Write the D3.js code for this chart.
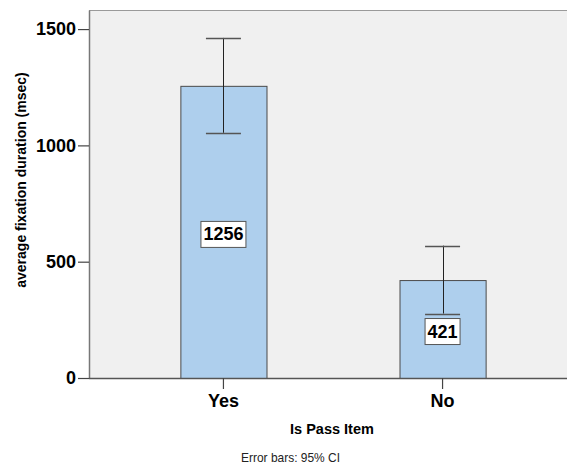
<!DOCTYPE html>
<html>
<head>
<meta charset="utf-8">
<script src="https://cdn.jsdelivr.net/npm/d3@7"></script>
<style>
  html, body { margin: 0; padding: 0; background: #ffffff; }
  svg { display: block; }
  text { font-family: "Liberation Sans", Arial, sans-serif; }
</style>
</head>
<body>
<div id="chart"></div>
<script>
const categories = ["Yes", "No"];
const means = [1256, 421];
const ciLower = [1054, 277];
const ciUpper = [1462, 569];
const yTicks = [0, 500, 1000, 1500];
const yAxisTitle = "average fixation duration (msec)";
const xAxisTitle = "Is Pass Item";
const footnote = "Error bars: 95% CI";
const yMax = 1582;

const W = 567, H = 466;
const plot = { left: 89, top: 10, right: 577, bottom: 378 };

const svg = d3.select("#chart").append("svg")
  .attr("width", W).attr("height", H);

const x = d3.scaleBand()
  .domain(categories)
  .range([plot.left, plot.right])
  .paddingInner(0.607)
  .paddingOuter(0.417);

const y = d3.scaleLinear()
  .domain([0, yMax])
  .range([plot.bottom, plot.top]);

// plot background
svg.append("rect")
  .attr("x", plot.left).attr("y", plot.top)
  .attr("width", W - plot.left).attr("height", plot.bottom - plot.top)
  .attr("fill", "#f0f0f0");

// top border
svg.append("line")
  .attr("x1", plot.left).attr("x2", W)
  .attr("y1", plot.top + 0.5).attr("y2", plot.top + 0.5)
  .attr("stroke", "#9a9a9a").attr("stroke-width", 1.2);

const data = categories.map((c, i) => ({ c, m: means[i], lo: ciLower[i], hi: ciUpper[i] }));

// bars
svg.selectAll("rect.bar").data(data).enter().append("rect")
  .attr("class", "bar")
  .attr("x", d => x(d.c) + 0.5)
  .attr("y", d => y(d.m) + 0.5)
  .attr("width", x.bandwidth())
  .attr("height", d => y(0) - y(d.m))
  .attr("fill", "#aecfed")
  .attr("stroke", "#4a4a4a")
  .attr("stroke-width", 1);

// error bars
const capW = 35;
const eb = svg.selectAll("g.eb").data(data).enter().append("g").attr("class", "eb")
  .attr("stroke", "#222").attr("stroke-width", 1);
eb.append("line")
  .attr("x1", d => Math.round(x(d.c) + x.bandwidth() / 2) + 0.5)
  .attr("x2", d => Math.round(x(d.c) + x.bandwidth() / 2) + 0.5)
  .attr("y1", d => y(d.hi)).attr("y2", d => y(d.lo));
eb.append("line")
  .attr("x1", d => x(d.c) + x.bandwidth() / 2 - capW / 2)
  .attr("x2", d => x(d.c) + x.bandwidth() / 2 + capW / 2)
  .attr("y1", d => Math.round(y(d.hi)) + 0.5).attr("y2", d => Math.round(y(d.hi)) + 0.5)
  .attr("stroke", "#555").attr("stroke-width", 1.5);
eb.append("line")
  .attr("x1", d => x(d.c) + x.bandwidth() / 2 - capW / 2)
  .attr("x2", d => x(d.c) + x.bandwidth() / 2 + capW / 2)
  .attr("y1", d => Math.round(y(d.lo)) + 0.5).attr("y2", d => Math.round(y(d.lo)) + 0.5)
  .attr("stroke", "#555").attr("stroke-width", 1.5);

// value labels
const lab = svg.selectAll("g.lab").data(data).enter().append("g").attr("class", "lab")
  .attr("transform", d => `translate(${x(d.c) + x.bandwidth() / 2},${(y(d.m) + y(0)) / 2 + 2})`);
lab.append("text")
  .attr("text-anchor", "middle")
  .attr("dy", "0.36em")
  .attr("font-size", 18)
  .attr("font-weight", "bold")
  .attr("fill", "#000")
  .text(d => d.m);
lab.each(function () {
  const g = d3.select(this);
  const bb = g.select("text").node().getBBox();
  g.insert("rect", "text")
    .attr("x", Math.round(bb.x - 2.5) + 0.5)
    .attr("y", -12.5)
    .attr("width", Math.round(bb.width + 5))
    .attr("height", 26)
    .attr("fill", "#ffffff")
    .attr("stroke", "#555")
    .attr("stroke-width", 1);
});

// y axis
const yAxis = svg.append("g")
  .attr("transform", `translate(${plot.left},0)`)
  .call(d3.axisLeft(y).tickValues(yTicks).tickFormat(d3.format("d"))
    .tickSize(11).tickPadding(2).tickSizeOuter(0));
yAxis.select(".domain").attr("stroke", "#777").attr("stroke-width", 1.5);
yAxis.selectAll(".tick line").attr("stroke", "#444").attr("stroke-width", 1.2);
yAxis.selectAll(".tick text")
  .attr("font-size", 18).attr("font-weight", "bold").attr("fill", "#000")
  .attr("font-family", "'Liberation Sans', Arial, sans-serif");

// x axis
const xAxis = svg.append("g")
  .attr("transform", `translate(0,${plot.bottom})`)
  .call(d3.axisBottom(x).tickSize(11).tickPadding(5).tickSizeOuter(0));
xAxis.select(".domain").attr("stroke", "#555").attr("stroke-width", 1.5)
  .attr("d", `M${plot.left},0.5H${W}`);
xAxis.selectAll(".tick line").attr("stroke", "#444").attr("stroke-width", 1.2);
xAxis.selectAll(".tick text")
  .attr("font-size", 18).attr("font-weight", "bold").attr("fill", "#000")
  .attr("font-family", "'Liberation Sans', Arial, sans-serif");

// axis titles
svg.append("text")
  .attr("transform", `translate(26,180) rotate(-90)`)
  .attr("text-anchor", "middle")
  .attr("font-size", 14).attr("font-weight", "bold").attr("fill", "#000")
  .text(yAxisTitle);

svg.append("text")
  .attr("x", 332).attr("y", 434)
  .attr("text-anchor", "middle")
  .attr("font-size", 14.5).attr("font-weight", "bold").attr("fill", "#000")
  .text(xAxisTitle);

svg.append("text")
  .attr("x", 241).attr("y", 461.5)
  .attr("font-size", 13)
  .attr("fill", "#222")
  .attr("textLength", 99)
  .attr("lengthAdjust", "spacingAndGlyphs")
  .text(footnote);
</script>
</body>
</html>
